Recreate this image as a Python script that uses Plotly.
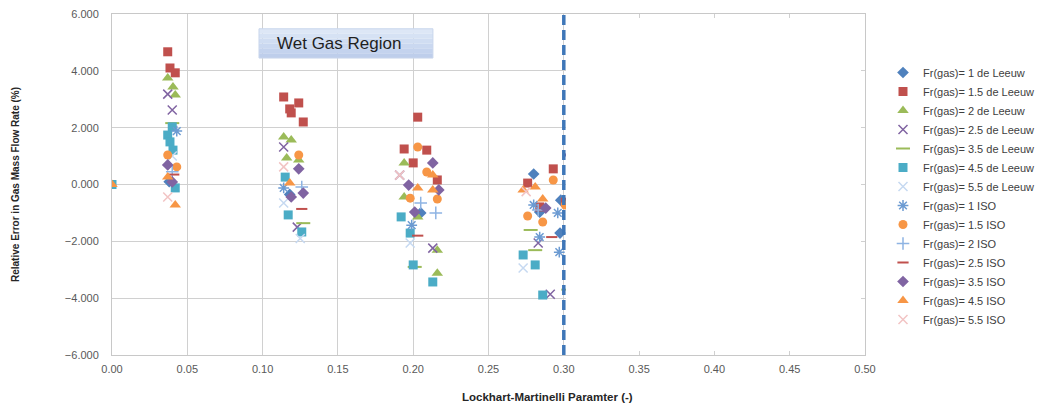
import plotly.graph_objects as go

# ---------------- data ----------------
names = [
    "Fr(gas)= 1 de Leeuw", "Fr(gas)= 1.5 de Leeuw", "Fr(gas)= 2 de Leeuw",
    "Fr(gas)= 2.5 de Leeuw", "Fr(gas)= 3.5 de Leeuw", "Fr(gas)= 4.5 de Leeuw",
    "Fr(gas)= 5.5 de Leeuw", "Fr(gas)= 1 ISO", "Fr(gas)= 1.5 ISO",
    "Fr(gas)= 2 ISO", "Fr(gas)= 2.5 ISO", "Fr(gas)= 3.5 ISO",
    "Fr(gas)= 4.5 ISO", "Fr(gas)= 5.5 ISO",
]

x_leeuw_1 = [0.038, 0.118, 0.205, 0.280, 0.284, 0.298, 0.2975]
y_leeuw_1 = [0.10, -0.35, -1.00, 0.37, -0.97, -0.55, -1.71]

x_leeuw_15 = [0.037, 0.0385, 0.042, 0.114, 0.124, 0.118, 0.119, 0.127,
              0.203, 0.194, 0.209, 0.200, 0.216, 0.293, 0.276, 0.284, 0.301]
y_leeuw_15 = [4.67, 4.10, 3.93, 3.08, 2.87, 2.66, 2.52, 2.20,
              2.37, 1.25, 1.21, 0.76, 0.16, 0.55, 0.05, -0.79, -0.62]

x_leeuw_2 = [0.037, 0.0405, 0.042, 0.114, 0.119, 0.116, 0.124,
             0.194, 0.203, 0.216, 0.216, 0.194]
y_leeuw_2 = [3.75, 3.43, 3.15, 1.67, 1.57, 0.93, 0.86,
             0.76, -1.14, -2.31, -3.12, -0.44]

x_leeuw_25 = [0.037, 0.040, 0.114, 0.123, 0.213, 0.191, 0.283, 0.291]
y_leeuw_25 = [3.18, 2.62, 1.32, -1.50, -2.24, 0.33, -2.06, -3.86]

x_leeuw_35 = [0.040, 0.127, 0.201, 0.278, 0.281, 0.303]
y_leeuw_35 = [2.16, -1.36, -2.90, -1.60, -2.31, -3.70]

x_leeuw_45 = [0.0, 0.040, 0.037, 0.0385, 0.0405, 0.042, 0.115, 0.117, 0.126,
              0.192, 0.198, 0.200, 0.213, 0.273, 0.281, 0.286]
y_leeuw_45 = [0.0, 2.03, 1.74, 1.50, 1.21, -0.12, 0.26, -1.07, -1.67,
              -1.14, -1.71, -2.83, -3.43, -2.48, -2.83, -3.89]

x_leeuw_55 = [0.040, 0.114, 0.125, 0.198, 0.273]
y_leeuw_55 = [1.00, -0.65, -1.90, -2.06, -2.94]

x_iso_1 = [0.043, 0.114, 0.199, 0.280, 0.296, 0.284, 0.297]
y_iso_1 = [1.88, -0.12, -1.43, -0.72, -1.00, -1.85, -2.38]

x_iso_15 = [0.037, 0.043, 0.124, 0.203, 0.209, 0.198, 0.216,
            0.293, 0.276, 0.286, 0.301]
y_iso_15 = [1.04, 0.62, 1.04, 1.32, 0.44, -0.48, -0.51,
            0.16, -1.11, -1.32, -0.72]

x_iso_2 = [0.040, 0.126, 0.205, 0.215, 0.283]
y_iso_2 = [0.45, -0.09, -0.65, -1.00, -0.90]

x_iso_25 = [0.041, 0.126, 0.203, 0.292]
y_iso_25 = [0.35, -0.86, -1.80, -1.85]

x_iso_35 = [0.037, 0.040, 0.119, 0.127, 0.124, 0.213, 0.197, 0.217, 0.201,
            0.288, 0.304]
y_iso_35 = [0.69, 0.09, -0.44, -0.30, 0.55, 0.76, -0.02, -0.19, -0.97,
            -0.83, 1.04]

x_iso_45 = [0.0, 0.037, 0.042, 0.118, 0.203, 0.213, 0.213, 0.273, 0.281, 0.286]
y_iso_45 = [0.0, 0.26, -0.72, 0.05, -0.12, -0.19, 0.33, -0.19, -0.09, -0.51]

x_iso_55 = [0.037, 0.114, 0.191, 0.275]
y_iso_55 = [-0.44, 0.62, 0.33, -0.25]

xs = [x_leeuw_1, x_leeuw_15, x_leeuw_2, x_leeuw_25, x_leeuw_35, x_leeuw_45,
      x_leeuw_55, x_iso_1, x_iso_15, x_iso_2, x_iso_25, x_iso_35, x_iso_45,
      x_iso_55]
ys = [y_leeuw_1, y_leeuw_15, y_leeuw_2, y_leeuw_25, y_leeuw_35, y_leeuw_45,
      y_leeuw_55, y_iso_1, y_iso_15, y_iso_2, y_iso_25, y_iso_35, y_iso_45,
      y_iso_55]

x_ticks = [0.00, 0.05, 0.10, 0.15, 0.20, 0.25, 0.30, 0.35, 0.40, 0.45, 0.50]
y_ticks = [-6, -4, -2, 0, 2, 4, 6]
wet_gas_limit = 0.30
x_range = [0.0, 0.5]
y_range = [-6, 6]
region_label = "Wet Gas Region"
region_box_x = [0.0976, 0.2131]
region_box_y = [4.45, 5.48]

# ---------------- styles ----------------
styles = [
    dict(symbol="diamond", color="#4F81BD", size=9, lw=0),
    dict(symbol="square", color="#C0504D", size=9, lw=0),
    dict(symbol="triangle-up", color="#9BBB59", size=10, lw=0),
    dict(symbol="x-thin", color="#8064A2", size=9, lw=1.5),
    dict(symbol="line-ew", color="#9BBB59", size=10, lw=2),
    dict(symbol="square", color="#4BACC6", size=9, lw=0),
    dict(symbol="x-thin", color="#C6D9F1", size=9, lw=1.5),
    dict(symbol="asterisk", color="#6C9BD2", size=9, lw=1.5),
    dict(symbol="circle", color="#F79646", size=9, lw=0),
    dict(symbol="cross-thin", color="#8EB4E3", size=9, lw=1.5),
    dict(symbol="line-ew", color="#C0504D", size=8, lw=2),
    dict(symbol="diamond", color="#8064A2", size=9, lw=0),
    dict(symbol="triangle-up", color="#F79646", size=10, lw=0),
    dict(symbol="x-thin", color="#F2C4C4", size=9, lw=1.5),
]

fig = go.Figure()
for name, x, y, st in zip(names, xs, ys, styles):
    marker = dict(symbol=st["symbol"], color=st["color"], size=st["size"])
    if st["lw"]:
        marker["line"] = dict(color=st["color"], width=st["lw"])
    else:
        marker["line"] = dict(width=0)
    fig.add_trace(go.Scatter(x=x, y=y, mode="markers", name=name, marker=marker))

W, H = 1042, 402
L, R, T, B = 104, 185, 6, 55
plot_w = W - L - R
plot_h = H - T - B
px_x = (x_range[1] - x_range[0]) / plot_w
px_y = (y_range[1] - y_range[0]) / plot_h

shapes = [
    # blank out the area beyond the wet-gas limit (leaving gridline stubs at the frame)
    dict(type="rect", xref="x", yref="y", layer="above",
         x0=wet_gas_limit + 2.2 * px_x, x1=x_range[1] - 4 * px_x,
         y0=y_range[0] + 4 * px_y, y1=y_range[1] - 4 * px_y,
         fillcolor="white", line=dict(width=0)),
    # dashed wet-gas limit line
    dict(type="line", xref="x", yref="y", layer="above",
         x0=wet_gas_limit, x1=wet_gas_limit, y0=y_range[0], y1=y_range[1],
         line=dict(color="#3F77B8", width=3.5, dash="10px,5px")),
]

# "Wet Gas Region" box with a soft vertical gradient
grad = ["#DDE7F6", "#D6E2F4", "#D0DDF2", "#CAD8F0", "#C4D3EE", "#BECEEB"]
n = len(grad)
y_top, y_bot = region_box_y[1], region_box_y[0]
for i, c in enumerate(grad):
    shapes.append(dict(type="rect", xref="x", yref="y", layer="above",
                       x0=region_box_x[0], x1=region_box_x[1],
                       y1=y_top - (y_top - y_bot) * i / n,
                       y0=y_top - (y_top - y_bot) * (i + 1) / n,
                       fillcolor=c, line=dict(width=0)))
shapes.append(dict(type="rect", xref="x", yref="y", layer="above",
                   x0=region_box_x[0], x1=region_box_x[1], y0=y_bot, y1=y_top,
                   fillcolor="rgba(0,0,0,0)", line=dict(color="#C9D6EC", width=1)))

fig.update_layout(
    width=W, height=H,
    margin=dict(l=L, r=R, t=T, b=B),
    paper_bgcolor="white", plot_bgcolor="white",
    font=dict(family="Liberation Sans", size=10, color="#404040"),
    showlegend=True,
    legend=dict(xref="container", yref="container", x=875 / W, y=1 - 50 / H,
                xanchor="left", yanchor="top", maxheight=1,
                font=dict(family="Liberation Sans", size=11, color="#404040"),
                itemwidth=30, tracegroupgap=0, bgcolor="rgba(0,0,0,0)"),
    shapes=shapes,
    xaxis=dict(range=x_range, tickvals=x_ticks, tickformat=".2f",
               showgrid=True, gridcolor="#D0D0D0", gridwidth=1,
               showline=True, linecolor="#C8C8C8", linewidth=1, mirror=True,
               zeroline=False, ticks="", ticklabelstandoff=4,
               ticklabeloverflow="allow", automargin=False,
               tickfont=dict(family="Liberation Sans", size=11, color="#595959")),
    yaxis=dict(range=y_range, tickvals=y_ticks, tickformat=".3f",
               showgrid=True, gridcolor="#D0D0D0", gridwidth=1,
               showline=True, linecolor="#C8C8C8", linewidth=1, mirror=True,
               zeroline=False, ticks="", ticklabelstandoff=10,
               ticklabeloverflow="allow", automargin=False,
               tickfont=dict(family="Liberation Sans", size=11, color="#595959")),
    annotations=[
        dict(text="<b>Lockhart-Martinelli Paramter (-)</b>", xref="paper", yref="paper",
             x=(539 - L) / plot_w, y=-42 / plot_h, xanchor="center", yanchor="middle",
             showarrow=False,
             font=dict(family="Liberation Sans", size=11.5, color="#262626")),
        dict(text="<b>Relative Error in Gas Mass Flow Rate (%)</b>", xref="paper",
             yref="paper", x=(7 - L) / plot_w, y=(H - B - 177) / plot_h,
             xanchor="center", yanchor="middle", textangle=-90, showarrow=False,
             font=dict(family="Liberation Sans Narrow, Liberation Sans", size=10,
                       color="#262626")),
        dict(text=region_label, xref="x", yref="y",
             x=region_box_x[0] + 16 * px_x, y=sum(region_box_y) / 2,
             xanchor="left", yanchor="middle", showarrow=False,
             font=dict(family="Liberation Sans", size=17, color="#1F1F1F")),
    ],
)

fig.write_html("out.html")
